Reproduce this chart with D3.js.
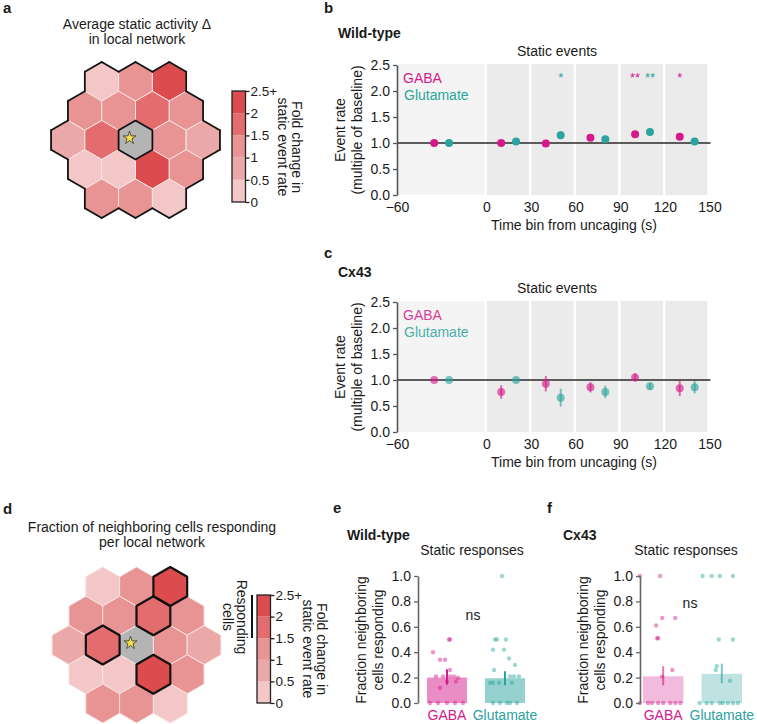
<!DOCTYPE html>
<html><head><meta charset="utf-8">
<script src="https://cdn.jsdelivr.net/npm/d3@7"></script>
<style>
body{margin:0;background:#fff;}
svg{display:block;font-family:"Liberation Sans",Arial,sans-serif;}
</style></head><body>
<svg id="fig" width="757" height="724"></svg>
<script>
// ================= DATA =================
// hex networks (fold change in static event rate), row by row; null = uncaged cell
const hexRows = [3, 4, 5, 4, 3];
const hexActivity = [
  [0.25, 1.25, 2.25],
  [1.25, 1.25, 1.75, 1.25],
  [0.75, 1.75, null, 1.25, 0.75],
  [0.25, 0.25, 2.25, 1.25],
  [1.25, 1.25, 0.25]
];
const hexResponding = [
  [0, 0, 1],
  [0, 0, 1, 0],
  [0, 1, 0, 0, 0],
  [0, 0, 1, 0],
  [0, 0, 0]
];
const colorBreaks = [0.5, 1, 1.5, 2];
const colorBands = ["#f3c6c7", "#eba8a9", "#e89394", "#e36d6e", "#dc4c4f"];
const cbEdges = [0, 0.5, 1, 1.5, 2, 2.5];
const cbTickLabels = ["0", "0.5", "1", "1.5", "2", "2.5+"];

// event-rate time courses
const binEdges = [-60, 0, 30, 60, 90, 120, 150];
const binCenters = [-30, 15, 45, 75, 105, 135];
const xTicks = [-60, 0, 30, 60, 90, 120, 150];
const rateTicks = [0, 0.5, 1, 1.5, 2, 2.5];
const wtGabaMean = [1.00, 1.00, 0.99, 1.10, 1.17, 1.12];
const wtGabaErr  = [0.01, 0.02, 0.02, 0.04, 0.03, 0.03];
const wtGlutMean = [1.00, 1.03, 1.15, 1.07, 1.21, 1.03];
const wtGlutErr  = [0.01, 0.04, 0.07, 0.03, 0.07, 0.06];
const wtGabaSig  = ["", "", "", "", "**", "*"];
const wtGlutSig  = ["", "", "*", "", "**", ""];
const cxGabaMean = [1.00, 0.77, 0.93, 0.86, 1.05, 0.84];
const cxGabaErr  = [0.01, 0.13, 0.15, 0.10, 0.08, 0.15];
const cxGlutMean = [1.00, 1.00, 0.66, 0.77, 0.88, 0.86];
const cxGlutErr  = [0.01, 0.03, 0.17, 0.12, 0.07, 0.12];
const cxGabaSig  = ["", "", "", "", "", ""];
const cxGlutSig  = ["", "", "", "", "", ""];

// fraction of neighbouring cells responding
const groups = ["GABA", "Glutamate"];
const fracTicks = [0, 0.2, 0.4, 0.6, 0.8, 1.0];
const wtBarMean = [0.200, 0.195];
const wtBarLo   = [0.145, 0.140];
const wtBarHi   = [0.265, 0.250];
const cxBarMean = [0.210, 0.230];
const cxBarLo   = [0.140, 0.155];
const cxBarHi   = [0.290, 0.310];
const wtGabaPts = [0.5, 0.5, 0.4, 0.34, 0.34, 0.26, 0.21, 0.21, 0.21, 0.21, 0.2, 0.17, 0.17, 0.12, 0, 0, 0, 0, 0];
const wtGabaJit = [0.05, 0.075, -0.35, -0.175, -0.05, 0.075, -0.275, -0.1, 0.075, 0.175, 0.275, 0, 0.225, -0.175, -0.225, 0, 0.2, 0.4, -0.425];
const wtGlutPts = [1.0, 0.5, 0.5, 0.5, 0.42, 0.42, 0.35, 0.3, 0.26, 0.21, 0.21, 0.21, 0.16, 0.16, 0.16, 0.16, 0, 0, 0, 0, 0];
const wtGlutJit = [-0.075, -0.25, -0.2, 0.025, -0.3, -0.025, 0.1, 0.25, -0.275, 0.125, 0.225, 0.35, -0.375, -0.3, -0.15, 0.175, -0.3, -0.125, 0.05, 0.125, 0.3];
const cxGabaPts = [1, 1, 0.67, 0.67, 0.61, 0.51, 0.51, 0.26, 0.21, 0, 0, 0, 0, 0, 0, 0, 0];
const cxGabaJit = [-0.575, -0.075, -0.025, 0.3, -0.175, -0.15, -0.125, 0.225, -0.025, -0.575, -0.375, -0.275, -0.125, 0, 0.175, 0.3, 0.425];
const cxGlutPts = [1, 1, 1, 1, 0.5, 0.5, 0.29, 0.26, 0.175, 0, 0, 0, 0, 0, 0, 0, 0];
const cxGlutJit = [-0.475, -0.25, -0.05, 0.275, -0.075, 0.275, -0.125, -0.15, 0.2, -0.55, -0.375, -0.25, -0.05, 0.025, 0.15, 0.275, 0.4];

// ================= DRAWING =================
const svg = d3.select("#fig");
const GABA_C = "#d5198b", GLUT_C = "#2ba39e", INK = "#1a1a1a";
const FF = "'Liberation Sans', Arial, sans-serif";

function addText(x, y, s, o = {}) {
  const t = svg.append("text").attr("x", x).attr("y", y).text(s)
    .attr("font-size", o.size || 14).attr("fill", o.fill || INK)
    .attr("text-anchor", o.anchor || "start");
  if (o.bold) t.attr("font-weight", "bold");
  if (o.rotate != null) t.attr("transform", `rotate(${o.rotate},${x},${y})`);
  if (o.opacity != null) t.attr("opacity", o.opacity);
  return t;
}
function styleAxis(g, col) {
  g.attr("font-size", 14).attr("font-family", FF);
  g.selectAll("text").attr("fill", INK);
  g.selectAll("line").attr("stroke", col || "#555").attr("stroke-width", 1.3);
  g.select(".domain").attr("stroke", col || "#555").attr("stroke-width", 1.6);
}

// ---------- hex network ----------
const colorScale = d3.scaleThreshold().domain(colorBreaks).range(colorBands);
function drawHex(cx, cy, r, mode) {
  const w = Math.sqrt(3) * r;
  const xs = d3.scaleLinear().domain([-1, 1]).range([cx - w, cx + w]);
  const ys = d3.scaleLinear().domain([-1, 1]).range([cy - 1.5 * r, cy + 1.5 * r]);
  const cells = [];
  hexRows.forEach((n, ri) => {
    for (let i = 0; i < n; i++) {
      cells.push({ x: xs(i - (n - 1) / 2), y: ys(ri - 2), v: hexActivity[ri][i], resp: hexResponding[ri][i] });
    }
  });
  const vtx = d3.range(6).map(k => {
    const a = Math.PI / 180 * (-90 + 60 * k);
    return [r * Math.cos(a), r * Math.sin(a)];
  });
  const hexPath = "M" + vtx.map(p => p.join(",")).join("L") + "Z";
  const g = svg.append("g");
  g.selectAll("path.cell").data(cells).join("path")
    .attr("d", hexPath)
    .attr("transform", d => `translate(${d.x},${d.y})`)
    .attr("fill", d => d.v == null ? "#b4b4b4" : colorScale(d.v))
    .attr("stroke", "#f7e4e4").attr("stroke-width", 1);
  const centre = cells.find(d => d.v == null);
  g.append("path").attr("d", d3.symbol(d3.symbolStar, 52)())
    .attr("transform", `translate(${centre.x - 6},${centre.y - 2})`)
    .attr("fill", "#f6e04c").attr("stroke", "#333").attr("stroke-width", 0.8);
  if (mode === "outer") {
    const segs = [];
    cells.forEach(c => {
      for (let k = 0; k < 6; k++) {
        const a = Math.PI / 180 * (-60 + 60 * k);
        const nx = c.x + w * Math.cos(a), ny = c.y + w * Math.sin(a);
        const has = cells.some(o => Math.abs(o.x - nx) < 1 && Math.abs(o.y - ny) < 1);
        if (!has) segs.push([[c.x + vtx[k][0], c.y + vtx[k][1]], [c.x + vtx[(k + 1) % 6][0], c.y + vtx[(k + 1) % 6][1]]]);
      }
    });
    g.selectAll("line.edge").data(segs).join("line")
      .attr("x1", d => d[0][0]).attr("y1", d => d[0][1])
      .attr("x2", d => d[1][0]).attr("y2", d => d[1][1])
      .attr("stroke", "#111").attr("stroke-width", 1.8).attr("stroke-linecap", "round");
    g.append("path").attr("d", hexPath).attr("transform", `translate(${centre.x},${centre.y})`)
      .attr("fill", "none").attr("stroke", "#111").attr("stroke-width", 1.8);
  } else {
    g.selectAll("path.resp").data(cells.filter(d => d.resp)).join("path")
      .attr("d", hexPath).attr("transform", d => `translate(${d.x},${d.y})`)
      .attr("fill", "none").attr("stroke", "#111").attr("stroke-width", 2.2)
      .attr("stroke-linejoin", "round");
  }
}
function drawColorbar(x, top, bottom, wdt) {
  const cs = d3.scaleLinear().domain([0, 2.5]).range([bottom, top]);
  const g = svg.append("g");
  g.selectAll("rect").data(d3.pairs(cbEdges)).join("rect")
    .attr("x", x).attr("width", wdt)
    .attr("y", d => cs(d[1])).attr("height", d => cs(d[0]) - cs(d[1]))
    .attr("fill", (d, i) => colorBands[i]);
  g.append("rect").attr("x", x).attr("y", top).attr("width", wdt).attr("height", bottom - top)
    .attr("fill", "none").attr("stroke", "#222").attr("stroke-width", 1.3);
  const ax = g.append("g").attr("transform", `translate(${x + wdt},0)`)
    .call(d3.axisRight(cs).tickValues(cbEdges).tickFormat((d, i) => cbTickLabels[i]).tickSize(4).tickPadding(1).tickSizeOuter(0));
  styleAxis(ax, "#222");
  ax.attr("font-size", 13.5);
  ax.select(".domain").remove();
}

// panel a
addText(3, 13, "a", { bold: true, size: 15 });
addText(137, 29, "Average static activity \u0394", { anchor: "middle" });
addText(137, 44, "in local network", { anchor: "middle" });
drawHex(135.5, 140, 19.5, "outer");
drawColorbar(232, 91, 202, 13.5);
addText(278, 147, "static event rate", { anchor: "middle", rotate: 90 });
addText(292, 147, "Fold change in", { anchor: "middle", rotate: 90 });

// panel d
addText(3, 514, "d", { bold: true, size: 15 });
addText(152, 532, "Fraction of neighboring cells responding", { anchor: "middle" });
addText(152, 547, "per local network", { anchor: "middle" });
drawHex(136.5, 645, 19.5, "resp");
drawColorbar(257, 595, 703, 13.5);
addText(303, 649, "static event rate", { anchor: "middle", rotate: 90 });
addText(317, 649, "Fold change in", { anchor: "middle", rotate: 90 });
addText(237, 617, "Responding", { anchor: "middle", rotate: 90 });
addText(223, 617, "cells", { anchor: "middle", rotate: 90 });
svg.append("line").attr("x1", 252).attr("x2", 252).attr("y1", 595).attr("y2", 638)
  .attr("stroke", "#111").attr("stroke-width", 2);

// ---------- event-rate time courses ----------
function drawRate(top, gMean, gErr, uMean, uErr, gSig, uSig, faded) {
  const y = d3.scaleLinear().domain([0, 2.5]).range([top + 130, top]);
  const x = d3.scaleLinear().domain([-60, 150]).range([397, 709.5]);
  const g = svg.append("g");
  const bins = d3.pairs(binEdges);
  g.selectAll("rect.bg").data(bins).join("rect")
    .attr("x", (d, i) => i === 0 ? x(d[0]) + 1 : x(d[0]) + 0.5)
    .attr("width", (d, i) => x(d[1]) - x(d[0]) - 2.5)
    .attr("y", y(2.5) - 1).attr("height", y(0) - y(2.5) + 1)
    .attr("fill", (d, i) => i === 0 ? "#f4f4f4" : "#ebebeb");
  g.append("line").attr("x1", x(-60)).attr("x2", x(150) + 1).attr("y1", y(1)).attr("y2", y(1))
    .attr("stroke", "#2a2a2a").attr("stroke-width", 1.4);
  const series = [
    { mean: gMean, err: gErr, sig: gSig, col: GABA_C, dx: -5 },
    { mean: uMean, err: uErr, sig: uSig, col: GLUT_C, dx: 5 }
  ];
  const op = faded ? 0.62 : 1;
  series.forEach(s => {
    const pts = binCenters.map((c, i) => ({ t: c + s.dx, m: s.mean[i], e: s.err[i], sig: s.sig[i] }));
    g.selectAll(null).data(pts).join("line")
      .attr("x1", d => x(d.t)).attr("x2", d => x(d.t))
      .attr("y1", d => y(d.m - d.e)).attr("y2", d => y(d.m + d.e))
      .attr("stroke", s.col).attr("stroke-width", 2).attr("opacity", op);
    g.selectAll(null).data(pts).join("circle")
      .attr("cx", d => x(d.t)).attr("cy", d => y(d.m)).attr("r", 4)
      .attr("fill", s.col).attr("opacity", op);
    g.selectAll(null).data(pts.filter(d => d.sig)).join("text")
      .attr("x", d => x(d.t)).attr("y", y(2.5) + 17).attr("text-anchor", "middle")
      .attr("font-size", 13).attr("fill", s.col).text(d => d.sig);
  });
  const ya = g.append("g").attr("transform", `translate(${x(-60)},0)`)
    .call(d3.axisLeft(y).tickValues(rateTicks).tickFormat(d3.format(".1f")).tickSize(4).tickSizeOuter(0));
  styleAxis(ya);
  const xa = g.append("g").attr("transform", `translate(0,${y(0) + 4})`)
    .call(d3.axisBottom(x).tickValues(xTicks).tickSize(0).tickPadding(3));
  styleAxis(xa);
  xa.select(".domain").remove();
  addText(574, y(0) + 35, "Time bin from uncaging (s)", { anchor: "middle" });
  addText(557, top - 9, "Static events", { anchor: "middle" });
  addText(345, top + 65, "Event rate", { anchor: "middle", rotate: -90 });
  addText(362, top + 65, "(multiple of baseline)", { anchor: "middle", rotate: -90 });
  addText(403, top + 18, "GABA", { fill: GABA_C, opacity: faded ? 0.85 : 1 });
  addText(404, top + 35, "Glutamate", { fill: GLUT_C, opacity: faded ? 0.85 : 1 });
}
addText(324, 13, "b", { bold: true, size: 15 });
addText(338, 38, "Wild-type", { bold: true });
drawRate(65, wtGabaMean, wtGabaErr, wtGlutMean, wtGlutErr, wtGabaSig, wtGlutSig, false);
addText(324, 258, "c", { bold: true, size: 15 });
addText(338, 277, "Cx43", { bold: true });
drawRate(302, cxGabaMean, cxGabaErr, cxGlutMean, cxGlutErr, cxGabaSig, cxGlutSig, true);

// ---------- bar panels ----------
function drawBars(axisX, range, means, lo, hi, ptsG, jitG, ptsU, jitU, barOp, errOp) {
  const y = d3.scaleLinear().domain([0, 1]).range([703, 576]);
  const xb = d3.scaleBand().domain(groups).range(range).paddingInner(0.31).paddingOuter(0.1);
  const g = svg.append("g");
  const cols = [GABA_C, GLUT_C];
  g.selectAll("rect.bar").data(groups).join("rect")
    .attr("x", d => xb(d)).attr("width", xb.bandwidth())
    .attr("y", (d, i) => y(means[i])).attr("height", (d, i) => y(0) - y(means[i]))
    .attr("fill", (d, i) => cols[i]).attr("fill-opacity", barOp);
  [[ptsG, jitG], [ptsU, jitU]].forEach((pj, gi) => {
    const cxm = xb(groups[gi]) + xb.bandwidth() / 2;
    g.selectAll(null).data(pj[0].map((v, k) => ({ v, j: pj[1][k] }))).join("circle")
      .attr("cx", d => cxm + d.j * xb.bandwidth()).attr("cy", d => y(d.v)).attr("r", 2.2)
      .attr("fill", cols[gi]).attr("fill-opacity", 0.45);
  });
  g.selectAll("line.err").data(groups).join("line")
    .attr("x1", d => xb(d) + xb.bandwidth() / 2).attr("x2", d => xb(d) + xb.bandwidth() / 2)
    .attr("y1", (d, i) => y(lo[i])).attr("y2", (d, i) => y(hi[i]))
    .attr("stroke", (d, i) => cols[i]).attr("stroke-width", 2).attr("opacity", errOp);
  const ya = g.append("g").attr("transform", `translate(${axisX},0)`)
    .call(d3.axisLeft(y).tickValues(fracTicks).tickFormat(d3.format(".1f")).tickSize(4).tickSizeOuter(0));
  styleAxis(ya, "#666");
  g.selectAll("text.grp").data(groups).join("text")
    .attr("x", d => xb(d) + xb.bandwidth() / 2).attr("y", 720).attr("text-anchor", "middle")
    .attr("font-size", 14).attr("fill", (d, i) => cols[i]).text(d => d);
  addText(axisX - 52, 640, "Fraction neighboring", { anchor: "middle", rotate: -90 });
  addText(axisX - 35, 640, "cells responding", { anchor: "middle", rotate: -90 });
}
addText(333, 513, "e", { bold: true, size: 15 });
addText(347, 540, "Wild-type", { bold: true });
addText(472, 555, "Static responses", { anchor: "middle" });
drawBars(418, [421.2, 530.8], wtBarMean, wtBarLo, wtBarHi, wtGabaPts, wtGabaJit, wtGlutPts, wtGlutJit, 0.5, 1);
addText(473, 620, "ns", { anchor: "middle" });

addText(547, 513, "f", { bold: true, size: 15 });
addText(563, 540, "Cx43", { bold: true });
addText(686, 555, "Static responses", { anchor: "middle" });
drawBars(640, [637.1, 747.9], cxBarMean, cxBarLo, cxBarHi, cxGabaPts, cxGabaJit, cxGlutPts, cxGlutJit, 0.3, 0.6);
addText(690, 608, "ns", { anchor: "middle" });
</script>
</body></html>
